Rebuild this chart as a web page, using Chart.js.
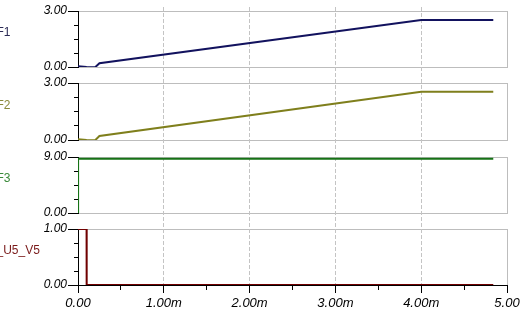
<!DOCTYPE html>
<html><head><meta charset="utf-8">
<script src="https://cdn.jsdelivr.net/npm/chart.js@4"></script>
<style>html,body{margin:0;padding:0;background:#fff;overflow:hidden}canvas{display:block}</style>
</head><body>
<canvas id="c" width="526" height="315"></canvas>
<script>
// ---- data (time in ms) ----
const timeF = [0, 0.1, 0.2, 0.25, 4.0, 4.84];
const valF1 = [0.04, 0.0, -0.01, 0.2, 2.52, 2.52];
const valF2 = [0.04, 0.0, -0.01, 0.21, 2.54, 2.54];
const timeF3 = [0, 0.001, 4.84];
const valF3 = [0, 8.7, 8.7];
const timeU5 = [0, 0.1, 0.101, 4.84];
const valU5 = [1.0, 1.0, 0.0, 0.0];
const seriesNames = ['F1', 'F2', 'F3', '_U5_V5'];
const seriesTimes = [timeF, timeF, timeF3, timeU5];
const seriesValues = [valF1, valF2, valF3, valU5];
const seriesColors = ['#12125e', '#7f7f1c', '#157215', '#700000'];
const labelColors = ['#2a2a55', '#8a8a3a', '#3a8a3a', '#7a1a1a'];
const yMax = [3, 3, 9, 1];
const xTickValues = [0, 1, 2, 3, 4, 5];
const xTickLabels = ['0.00', '1.00m', '2.00m', '3.00m', '4.00m', '5.00'];
const xMinorValues = [0.5, 1.5, 2.5, 3.5, 4.5];

// ---- layout of the stacked panels (top to bottom, px weights) ----
const stackParts = [
  {gap: 4}, {panel: 0, w: 56}, {gap: 16}, {panel: 1, w: 57},
  {gap: 17}, {panel: 2, w: 56}, {gap: 16}, {panel: 3, w: 56}
];
const FRAME = '#bdbdbd';
const yFont = {family: 'Liberation Sans', size: 12, style: 'italic'};
const xFont = {family: 'Liberation Sans', size: 13, style: 'italic'};

function zeroPad(s) { s.paddingTop = 0; s.paddingBottom = 0; s.paddingLeft = 0; s.paddingRight = 0; }

const scales = {};
stackParts.forEach((part, k) => {
  const w = part.gap !== undefined ? part.gap : part.w;
  const isPanel = part.panel !== undefined;
  const p = part.panel;
  // major axis (labels + long ticks)
  const majId = isPanel ? 'y' + p : 'lg' + k;
  scales[majId] = isPanel ? {
    type: 'linear', position: 'left', stack: 'maj', stackWeight: w, weight: 100 - k,
    min: 0, max: yMax[p],
    afterBuildTicks: s => { s.ticks = [{value: 0}, {value: yMax[p]}]; },
    afterFit: s => { s.width = 78; zeroPad(s); },
    grid: {color: FRAME, lineWidth: 1, tickLength: 10, tickColor: '#000', drawOnChartArea: true},
    border: {display: true, color: '#000', width: 1},
    ticks: {padding: 1, color: '#000', font: yFont, autoSkip: false, callback: v => Number(v).toFixed(2)}
  } : {
    type: 'linear', position: 'left', stack: 'maj', stackWeight: w, weight: 100 - k,
    min: 0, max: 1,
    afterFit: s => { s.width = 78; zeroPad(s); },
    grid: {display: false}, border: {display: false}, ticks: {display: false}
  };
  // minor ticks axis
  scales['lm' + k] = {
    type: 'linear', position: 'left', stack: 'min', stackWeight: w, weight: 50 - k,
    min: 0, max: isPanel ? yMax[p] : 1,
    afterBuildTicks: s => { s.ticks = isPanel ? [0, 1, 2, 3, 4].map(i => ({value: yMax[p] * i / 4})) : []; },
    afterFit: s => { s.width = 0; zeroPad(s); },
    grid: {display: isPanel, drawOnChartArea: false, tickLength: 4, tickColor: '#000', color: '#000'},
    border: {display: false}, ticks: {display: false}
  };
  // right frame
  scales['rg' + k] = {
    type: 'linear', position: 'right', stack: 'rgt', stackWeight: w, weight: k,
    min: 0, max: 1,
    afterFit: s => { s.width = 0; zeroPad(s); },
    grid: {display: true, drawOnChartArea: false, drawTicks: false},
    border: {display: isPanel, color: FRAME, width: 1}, ticks: {display: false}
  };
});

scales.x = {
  type: 'linear', position: 'bottom', weight: 1, min: 0, max: 5,
  afterBuildTicks: s => { s.ticks = xTickValues.map(v => ({value: v})); },
  afterFit: s => { s.height = 30; zeroPad(s); },
  grid: {
    color: c => (c.tick && (c.tick.value === 0 || c.tick.value === 5)) ? 'rgba(0,0,0,0)' : '#c4c4c4',
    tickColor: '#000', tickLength: 8, tickBorderDash: [], drawOnChartArea: true
  },
  border: {display: true, color: '#000', width: 1, dash: [4, 2]},
  ticks: {padding: 3, color: '#000', font: xFont, autoSkip: false, maxRotation: 0,
          callback: (v, i) => xTickLabels[i]}
};
scales.xm = {
  type: 'linear', position: 'bottom', weight: 0, min: 0, max: 5,
  afterBuildTicks: s => { s.ticks = xMinorValues.map(v => ({value: v})); },
  afterFit: s => { s.height = 0; zeroPad(s); },
  grid: {drawOnChartArea: false, tickLength: 5, tickColor: '#000', color: '#000'},
  border: {display: false}, ticks: {display: false}
};

const datasets = seriesNames.map((n, i) => ({
  label: n,
  data: seriesTimes[i].map((t, j) => ({x: t, y: seriesValues[i][j]})),
  xAxisID: 'x', yAxisID: 'y' + i,
  borderColor: seriesColors[i], borderWidth: 2, pointRadius: 0, tension: 0, fill: false
}));

const panelTitles = {
  id: 'panelTitles',
  afterDraw(chart) {
    const ctx = chart.ctx;
    ctx.save();
    ctx.font = '12px "Liberation Sans"';
    ctx.textBaseline = 'middle';
    ctx.textAlign = 'left';
    seriesNames.forEach((n, i) => {
      const s = chart.scales['y' + i];
      ctx.fillStyle = labelColors[i];
      ctx.fillText(n, -3.5, (s.top + s.bottom) / 2 - 6);
    });
    ctx.restore();
  }
};

new Chart(document.getElementById('c'), {
  type: 'line',
  data: {datasets},
  options: {
    responsive: false, animation: false, devicePixelRatio: 1,
    layout: {padding: {left: 0, right: 19, top: 7, bottom: 0}},
    plugins: {legend: {display: false}, tooltip: {enabled: false}},
    scales
  },
  plugins: [panelTitles]
});
</script>
</body></html>
